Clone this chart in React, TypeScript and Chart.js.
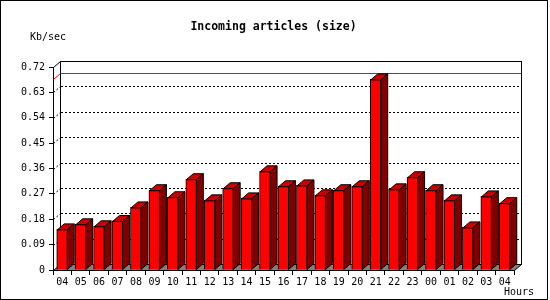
import React, { useEffect, useRef } from "react";
import { Chart, registerables } from "chart.js";

Chart.register(...registerables);

const hours = ["04", "05", "06", "07", "08", "09", "10", "11", "12", "13", "14", "15", "16", "17", "18", "19", "20", "21", "22", "23", "00", "01", "02", "03", "04"];
const sizeKbSec = [0.144, 0.162, 0.155, 0.174, 0.222, 0.283, 0.258, 0.322, 0.247, 0.29, 0.254, 0.35, 0.297, 0.3, 0.265, 0.283, 0.297, 0.676, 0.286, 0.329, 0.283, 0.247, 0.151, 0.261, 0.237];
const yTickValues = [0, 0.09, 0.18, 0.27, 0.36, 0.45, 0.54, 0.63, 0.72];
const yTickLabels = ["0", "0.09", "0.18", "0.27", "0.36", "0.45", "0.54", "0.63", "0.72"];
const titleText = "Incoming articles (size)";
const yUnitText = "Kb/sec";
const xUnitText = "Hours";

const FONT = "'DejaVu Sans Mono', monospace";
const DX = 7;
const DY = 6;

const threeDPlugin = {
  id: "threeD",
  beforeDatasetsDraw(chart: any) {
    const { ctx, chartArea: ca, scales } = chart;
    const ys = scales.y;
    const L = ca.left, R = ca.right, T = ca.top, B = ca.bottom;
    ctx.save();
    ctx.lineWidth = 1;
    ctx.strokeStyle = "#000";
    // back wall
    ctx.fillStyle = "#fff";
    ctx.fillRect(L + DX, T - DY, R - L, B - T);
    // floor
    ctx.beginPath();
    ctx.moveTo(L + 0.5, B + 0.5);
    ctx.lineTo(R + 0.5, B + 0.5);
    ctx.lineTo(R + DX + 0.5, B - DY + 0.5);
    ctx.lineTo(L + DX + 0.5, B - DY + 0.5);
    ctx.closePath();
    ctx.fillStyle = "#808080";
    ctx.fill();
    ctx.stroke();
    // dotted grid lines on back wall and left side
    ctx.setLineDash([2, 2]);
    for (let i = 1; i < yTickValues.length - 1; i++) {
      const py = Math.round(ys.getPixelForValue(yTickValues[i]));
      ctx.beginPath();
      ctx.moveTo(L + DX + 1, py - DY + 0.5);
      ctx.lineTo(R + DX, py - DY + 0.5);
      ctx.stroke();
      ctx.beginPath();
      ctx.moveTo(L + 0.5, py + 0.5);
      ctx.lineTo(L + DX + 0.5, py - DY + 0.5);
      ctx.stroke();
    }
    ctx.setLineDash([]);
    // wall outline
    ctx.strokeRect(L + DX + 0.5, T - DY + 0.5, R - L, B - T);
    ctx.beginPath();
    ctx.moveTo(L + 0.5, T + 0.5);
    ctx.lineTo(L + DX + 0.5, T - DY + 0.5);
    ctx.stroke();
    // max line
    const maxV = Math.max(...sizeKbSec);
    const pm = Math.round(ys.getPixelForValue(maxV));
    ctx.strokeStyle = "#ff0000";
    ctx.beginPath();
    ctx.moveTo(L + 0.5, pm + 0.5);
    ctx.lineTo(L + DX + 0.5, pm - DY + 0.5);
    ctx.lineTo(R + DX, pm - DY + 0.5);
    ctx.stroke();
    ctx.restore();
  },
  afterDatasetsDraw(chart: any) {
    const { ctx } = chart;
    const meta = chart.getDatasetMeta(0);
    ctx.save();
    ctx.lineWidth = 1;
    ctx.strokeStyle = "#000";
    meta.data.forEach((bar: any) => {
      const { x, y, base, width } = bar.getProps(["x", "y", "base", "width"], true);
      const x0 = x - width / 2;
      const x1 = x + width / 2 - 0.5;
      const yt = y + 0.5;
      // top face
      ctx.beginPath();
      ctx.moveTo(x0 + 0.5, yt);
      ctx.lineTo(x0 + 0.5 + DX, yt - DY);
      ctx.lineTo(x1 + DX, yt - DY);
      ctx.lineTo(x1, yt);
      ctx.closePath();
      ctx.fillStyle = "#cc0000";
      ctx.fill();
      ctx.stroke();
      // side face
      ctx.beginPath();
      ctx.moveTo(x1, yt);
      ctx.lineTo(x1 + DX, yt - DY);
      ctx.lineTo(x1 + DX, base - DY);
      ctx.lineTo(x1, base);
      ctx.closePath();
      ctx.fillStyle = "#800000";
      ctx.fill();
      ctx.stroke();
    });
    ctx.restore();
  },
  afterDraw(chart: any) {
    const { ctx } = chart;
    ctx.save();
    ctx.fillStyle = "#000";
    ctx.textBaseline = "middle";
    ctx.font = `bold 11.5px ${FONT}`;
    ctx.textAlign = "center";
    ctx.fillText(titleText, 273.5, 27);
    ctx.font = `10px ${FONT}`;
    ctx.textAlign = "left";
    ctx.fillText(yUnitText, 30, 37);
    ctx.fillText(xUnitText, 504, 292);
    ctx.strokeStyle = "#000";
    ctx.lineWidth = 1;
    ctx.strokeRect(0.5, 0.5, 547, 299);
    ctx.restore();
  },
};

export default function App() {
  const ref = useRef<HTMLCanvasElement>(null);
  useEffect(() => {
    document.body.style.margin = "0";
    const chart = new Chart(ref.current as HTMLCanvasElement, {
      type: "bar",
      data: {
        labels: hours,
        datasets: [
          {
            data: sizeKbSec,
            backgroundColor: "#ff0000",
            borderColor: "#000",
            borderWidth: 1,
            barThickness: 11,
          },
        ],
      },
      options: {
        responsive: false,
        animation: false,
        devicePixelRatio: 1,
        layout: { padding: { top: 67, right: 36, left: 0, bottom: 0 } },
        plugins: { legend: { display: false }, tooltip: { enabled: false }, title: { display: false } },
        scales: {
          x: {
            offset: true,
            grid: { display: true, drawOnChartArea: false, drawTicks: true, tickLength: 5, color: "#000", offset: true },
            border: { display: true, color: "#000" },
            ticks: { color: "#000", font: { family: FONT, size: 10 }, padding: 1, maxRotation: 0, autoSkip: false },
            afterFit: (s: any) => { s.height = 30; },
          },
          y: {
            min: 0,
            max: 0.72,
            grid: { display: true, drawOnChartArea: false, drawTicks: true, tickLength: 4, color: "#000" },
            border: { display: true, color: "#000" },
            ticks: {
              color: "#000",
              font: { family: FONT, size: 10 },
              padding: 4,
              callback: (_v: any, i: number) => yTickLabels[i],
            },
            afterBuildTicks: (s: any) => { s.ticks = yTickValues.map((v) => ({ value: v })); },
            afterFit: (s: any) => { s.width = 53; },
          },
        },
      },
      plugins: [threeDPlugin],
    } as any);
    return () => chart.destroy();
  }, []);
  return <canvas ref={ref} width={550} height={300} style={{ display: "block" }} />;
}
